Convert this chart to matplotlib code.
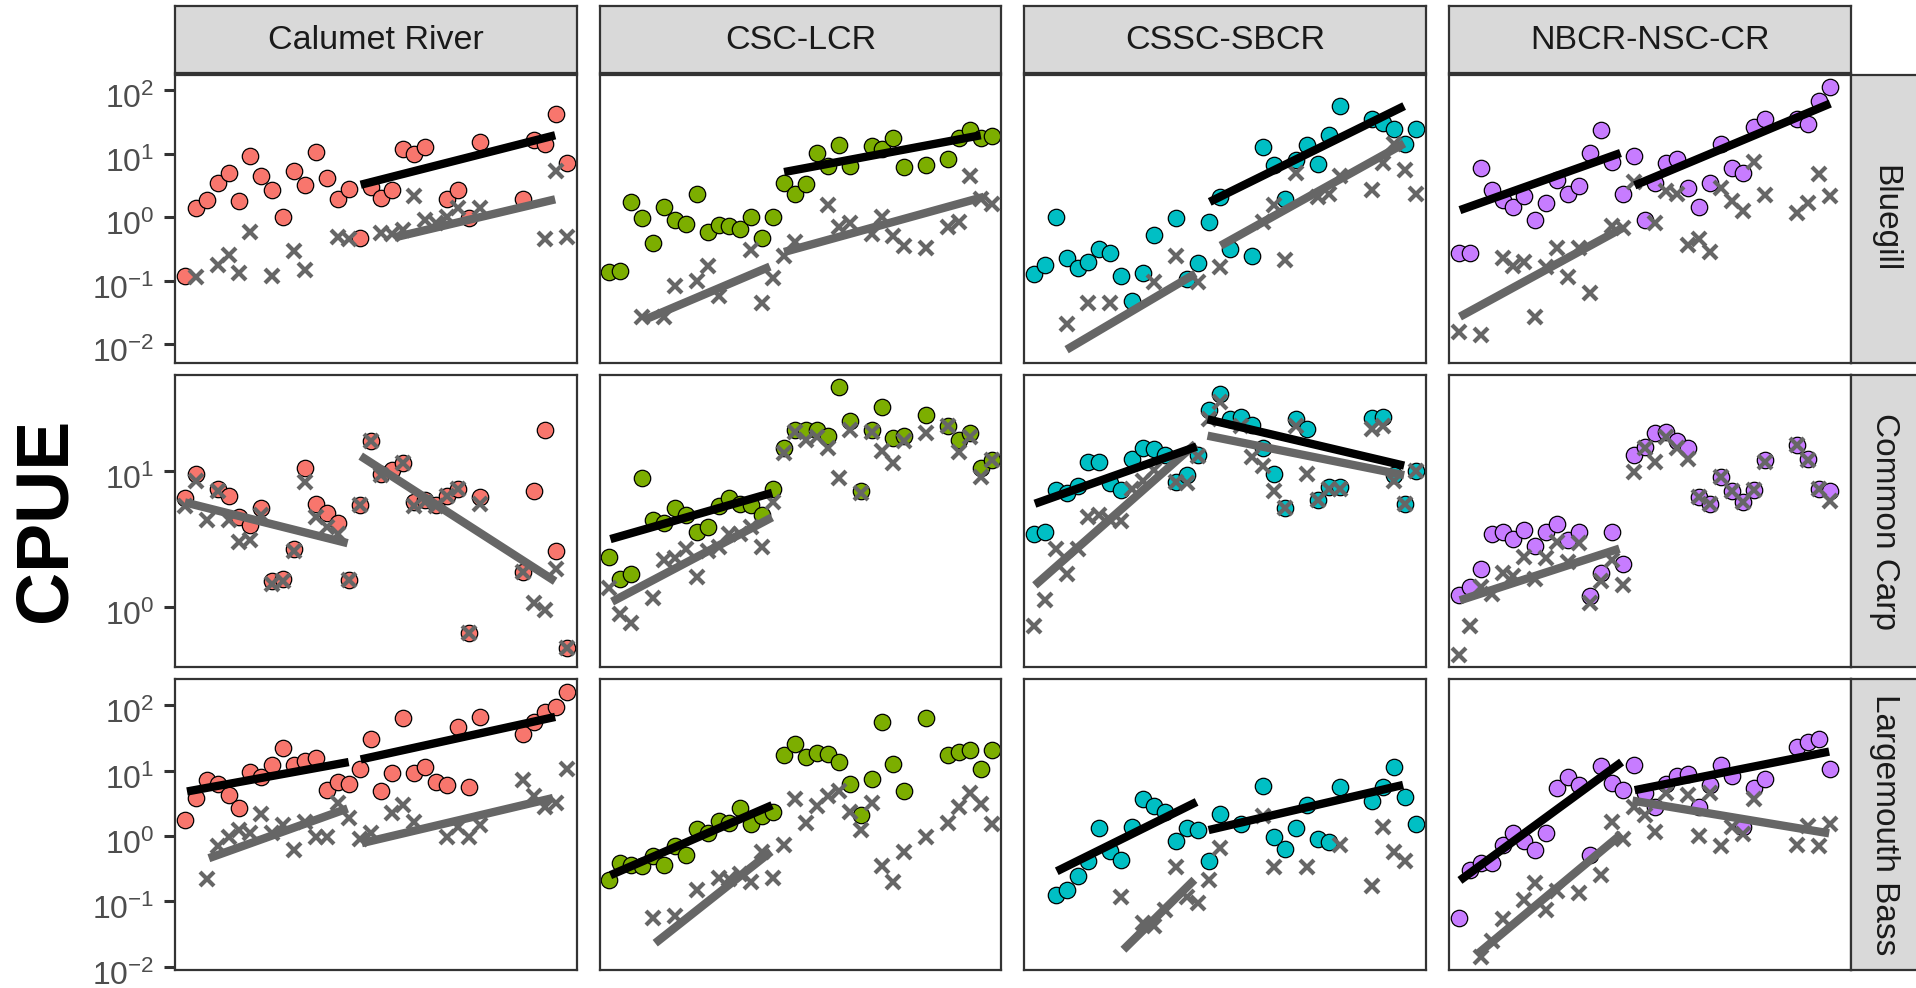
import numpy as np
import matplotlib.pyplot as plt
import matplotlib.transforms as mtransforms
from matplotlib.ticker import LogLocator, NullLocator

plt.rcParams['font.family'] = ['Liberation Sans', 'DejaVu Sans']
plt.rcParams['mathtext.fontset'] = 'custom'
plt.rcParams['mathtext.rm'] = 'Liberation Sans'
plt.rcParams['mathtext.it'] = 'Liberation Sans'
plt.rcParams['mathtext.bf'] = 'Liberation Sans:bold'
plt.rcParams['mathtext.default'] = 'regular'
plt.rcParams['axes.unicode_minus'] = False

sites = ["Calumet River", "CSC-LCR", "CSSC-SBCR", "NBCR-NSC-CR"]
species = ["Bluegill", "Common Carp", "Largemouth Bass"]
site_colors = ["#F8766D", "#7CAE00", "#00BFC4", "#C77CFF"]

# sampling index along x, values below are log10(CPUE), None = not sampled
t = np.arange(36)

# ---- Bluegill ----
cr_blg_circle = [-0.93, 0.14, 0.27, 0.54, 0.69, 0.25, 0.97, 0.65, 0.43, 0.0, 0.73, 0.50, 1.03, 0.62, 0.28, 0.45, -0.33, 0.48,
                 0.30, 0.43, 1.07, 1.00, 1.10, None, 0.28, 0.43, -0.02, 1.19, None, None, None, 0.28, 1.21, 1.15, 1.62, 0.86]
cr_blg_cross = [None, -0.94, None, -0.76, -0.60, -0.88, -0.24, None, -0.93, None, -0.53, -0.83, None, None, -0.31, -0.35, None, None,
                -0.25, -0.27, -0.20, 0.33, -0.05, -0.10, 0.0, 0.14, None, 0.14, None, None, None, None, None, -0.34, 0.73, -0.31]
csc_blg_circle = [-0.86, -0.85, 0.24, -0.02, -0.41, 0.16, -0.05, -0.11, 0.36, -0.24, -0.12, -0.14, -0.19, 0.0, -0.33, 0.0, 0.53, 0.37,
                  0.52, 1.01, 0.80, 1.13, 0.80, None, 1.12, 1.07, 1.24, 0.79, None, 0.82, None, 0.91, 1.25, 1.37, 1.25, 1.28]
csc_blg_cross = [None, None, None, -1.57, None, -1.57, -1.08, None, -1.0, -0.77, -1.25, None, None, -0.52, -1.36, -0.96, -0.62, -0.39,
                 None, None, 0.19, -0.15, -0.10, None, -0.26, 0.0, -0.30, -0.45, None, -0.49, None, -0.15, -0.07, 0.64, 0.29, 0.20]
cssc_blg_circle = [-0.89, -0.76, 0.0, -0.64, -0.81, -0.70, -0.51, -0.56, -0.93, -1.33, -0.88, -0.28, None, -0.01, -0.97, -0.72, -0.08, 0.32,
                   -0.51, None, -0.61, 1.11, 0.82, 0.28, 0.90, 1.13, 0.83, 1.29, 1.75, None, None, 1.54, 1.48, 1.39, 1.15, 1.39]
cssc_blg_cross = [None, None, None, -1.69, None, -1.36, None, -1.35, None, None, None, -1.03, None, -0.61, None, -1.03, None, -0.78,
                  None, None, None, -0.07, 0.19, -0.68, 0.69, None, 0.32, 0.37, 0.64, None, None, 0.43, 0.85, 1.16, 0.74, 0.37]
nbcr_blg_circle = [-0.56, -0.56, 0.78, 0.43, 0.27, 0.16, 0.33, -0.05, 0.22, 0.58, 0.36, 0.49, 1.01, 1.37, 0.87, 0.36, 0.96, -0.05,
                   0.54, 0.85, 0.92, 0.46, 0.16, 0.54, 1.16, 0.77, 0.70, 1.42, 1.54, None, None, 1.55, 1.46, 1.83, 2.05, None]
nbcr_blg_cross = [-1.81, None, -1.86, None, -0.65, -0.77, -0.70, -1.57, -0.78, -0.49, -0.94, -0.49, -1.20, None, -0.14, -0.17, 0.55, None,
                  -0.10, 0.41, 0.36, -0.44, -0.34, -0.55, 0.46, 0.25, 0.10, 0.87, 0.35, None, None, 0.06, 0.22, 0.68, 0.33, None]

# ---- Common Carp ----
cr_cc_circle = [0.80, 0.98, None, 0.87, 0.82, 0.66, 0.60, 0.73, 0.19, 0.21, 0.43, 1.02, 0.76, 0.69, 0.62, 0.20, 0.75, 1.22,
                0.98, 1.01, 1.06, 0.77, 0.79, 0.75, 0.82, 0.87, -0.19, 0.81, None, None, None, 0.26, 0.85, 1.30, 0.41, -0.30]
cr_cc_cross = [0.74, 0.93, 0.64, 0.85, 0.64, 0.48, 0.49, 0.68, 0.17, 0.19, 0.41, 0.92, 0.66, 0.59, 0.54, 0.20, 0.75, 1.22,
               0.97, None, 1.06, 0.74, 0.77, 0.74, 0.82, 0.87, -0.19, 0.76, None, None, None, 0.26, 0.03, -0.02, 0.28, -0.30]
csc_cc_circle = [0.37, 0.21, 0.24, 0.95, 0.64, 0.62, 0.73, 0.68, 0.55, 0.59, 0.74, 0.80, 0.76, 0.75, 0.68, 0.87, 1.17, 1.30,
                 1.30, 1.30, 1.26, 1.62, 1.37, 0.85, 1.30, 1.47, 1.24, 1.26, None, 1.41, None, 1.33, 1.23, 1.28, 1.02, 1.08]
csc_cc_cross = [0.14, -0.05, -0.12, None, 0.07, 0.35, 0.36, 0.43, 0.22, 0.41, 0.44, 0.54, 0.54, 0.59, 0.44, 0.77, 1.13, 1.29,
                1.23, 1.25, 1.17, 0.95, 1.30, 0.84, 1.29, 1.15, 1.06, 1.22, None, 1.28, None, 1.33, 1.14, 1.25, 0.96, 1.08]
cssc_cc_circle = [0.54, 0.55, 0.86, 0.84, 0.89, 1.07, 1.07, 0.91, 0.86, 1.09, 1.17, 1.16, 1.12, 0.92, 0.97, 1.12, 1.45, 1.57,
                  1.38, 1.40, 1.34, 1.17, 0.98, 0.73, 1.38, 1.31, 0.79, 0.88, 0.88, None, None, 1.39, 1.40, 0.97, 0.76, 1.00]
cssc_cc_cross = [-0.14, 0.05, 0.43, 0.24, 0.43, 0.66, 0.68, 0.64, 0.63, 0.87, 0.93, 1.01, None, 0.92, 0.91, 1.11, 1.38, 1.51,
                 None, 1.33, 1.10, 1.04, 0.85, 0.73, 1.33, 0.98, 0.79, 0.87, 0.87, None, None, 1.31, 1.33, 0.93, 0.76, 1.00]
nbcr_cc_circle = [0.09, 0.15, 0.28, 0.54, 0.55, 0.50, 0.57, 0.45, 0.55, 0.61, 0.49, 0.55, 0.08, 0.25, 0.55, 0.32, 1.12, 1.18,
                  1.28, 1.29, 1.22, 1.17, 0.81, 0.76, 0.96, 0.85, 0.77, 0.86, 1.08, None, None, 1.19, 1.09, 0.87, 0.85, None]
nbcr_cc_cross = [-0.35, -0.14, 0.15, 0.10, 0.25, 0.23, 0.37, 0.21, 0.36, 0.48, 0.33, 0.47, 0.03, 0.19, 0.35, 0.16, 0.99, 1.17,
                 1.07, 1.25, 1.17, 1.09, 0.81, 0.76, 0.96, 0.85, 0.77, 0.86, 1.07, None, None, 1.19, 1.08, 0.87, 0.78, None]

# ---- Largemouth Bass ----
cr_lmb_circle = [0.24, 0.58, 0.85, 0.80, 0.63, 0.42, 0.98, 0.90, 1.08, 1.34, 1.08, 1.15, 1.19, 0.71, 0.83, 0.80, 1.02, 1.49,
                 0.68, 0.96, 1.81, 0.96, 1.06, 0.83, 0.78, 1.66, 0.75, 1.82, None, None, None, 1.56, 1.75, 1.90, 1.97, 2.20]
cr_lmb_cross = [None, None, -0.66, -0.15, -0.01, 0.09, 0.04, 0.34, 0.04, 0.17, -0.21, 0.22, -0.01, -0.01, 0.50, 0.27, -0.04, 0.04,
                None, 0.35, 0.47, 0.22, None, None, -0.01, 0.14, -0.01, 0.17, None, None, None, 0.85, 0.61, 0.45, 0.50, 1.03]
csc_lmb_circle = [-0.67, -0.41, -0.44, -0.46, -0.31, -0.44, -0.16, -0.29, 0.10, 0.05, 0.23, 0.20, 0.42, 0.19, 0.30, 0.36, 1.24, 1.40,
                  1.20, 1.27, 1.26, 1.13, 0.79, 0.32, 0.87, 1.75, 1.10, 0.69, None, 1.81, None, 1.24, 1.29, 1.31, 1.03, 1.32]
csc_lmb_cross = [None, None, None, None, -1.26, None, -1.23, None, -0.82, None, -0.65, -0.66, -0.58, -0.70, -0.25, -0.65, -0.14, 0.56,
                 0.20, 0.46, 0.61, 0.68, 0.36, 0.09, 0.50, -0.46, -0.70, -0.25, None, -0.01, None, 0.20, 0.45, 0.66, 0.49, 0.18]
cssc_lmb_circle = [None, None, -0.90, -0.83, -0.61, -0.39, 0.12, -0.23, -0.37, 0.13, 0.56, 0.46, 0.36, -0.07, 0.12, 0.09, -0.38, 0.34,
                   None, 0.19, None, 0.76, -0.01, -0.20, 0.12, 0.47, -0.05, -0.10, 0.75, None, None, 0.54, 0.75, 1.06, 0.59, 0.19]
cssc_lmb_cross = [None, None, None, None, None, None, None, None, -0.94, None, -1.33, -1.38, -1.13, -0.48, -0.93, -1.03, -0.68, -0.19,
                  None, None, None, 0.30, -0.48, None, None, -0.47, None, None, -0.14, None, None, -0.76, 0.14, -0.24, -0.38, None]
nbcr_lmb_circle = [-1.26, -0.52, -0.41, -0.42, -0.14, 0.05, -0.07, -0.21, 0.05, 0.74, 0.90, 0.78, -0.29, 1.07, 0.81, 0.71, 1.08, 0.66,
                   0.45, 0.80, 0.91, 0.95, 0.45, 0.78, 1.08, 0.91, 0.14, 0.74, 0.87, None, None, 1.36, 1.44, 1.48, 1.03, None]
nbcr_lmb_cross = [None, None, -1.85, -1.60, -1.27, None, -0.98, -0.72, -1.14, -0.84, None, -0.87, None, -0.60, 0.22, -0.04, 0.45, 0.32,
                  0.06, 0.65, None, 0.63, 0.00, 0.65, -0.15, 0.14, 0.03, 0.56, None, None, None, -0.14, 0.15, -0.15, 0.19, None]

# trend segments: (x start, x end, log10 CPUE start, log10 CPUE end)
cr_blg_fit_circle = [(16.1, 33.9, 0.51, 1.29)]
cr_blg_fit_cross = [(19.2, 33.9, -0.32, 0.28)]
csc_blg_fit_circle = [(16.0, 34.0, 0.71, 1.29)]
csc_blg_fit_cross = [(3.2, 14.7, -1.62, -0.78), (16.0, 34.3, -0.55, 0.32)]
cssc_blg_fit_circle = [(16.1, 33.9, 0.24, 1.75)]
cssc_blg_fit_cross = [(3.0, 14.8, -2.09, -0.89), (17.1, 33.9, -0.45, 1.16)]
nbcr_blg_fit_circle = [(0.1, 14.8, 0.11, 1.01), (16.1, 34.0, 0.50, 1.79)]
nbcr_blg_fit_cross = [(0.1, 15.0, -1.57, -0.17)]

cr_cc_fit_circle = []
cr_cc_fit_cross = [(0.0, 14.9, 0.77, 0.47), (16.1, 33.9, 1.11, 0.19)]
csc_cc_fit_circle = [(0.1, 14.9, 0.50, 0.84)]
csc_cc_fit_cross = [(0.25, 14.9, 0.04, 0.66)]
cssc_cc_fit_circle = [(0.1, 14.9, 0.76, 1.18), (15.9, 33.9, 1.38, 1.04)]
cssc_cc_fit_cross = [(0.1, 14.8, 0.16, 1.20), (15.9, 33.9, 1.26, 0.97)]
nbcr_cc_fit_circle = []
nbcr_cc_fit_cross = [(0.1, 14.7, 0.05, 0.43)]

cr_lmb_fit_circle = [(0.2, 15.0, 0.68, 1.13), (16.1, 33.9, 1.17, 1.82)]
cr_lmb_fit_cross = [(2.2, 14.9, -0.34, 0.42), (16.2, 33.7, -0.11, 0.58)]
csc_lmb_fit_circle = [(0.1, 14.9, -0.60, 0.47)]
csc_lmb_fit_cross = [(4.2, 14.8, -1.64, -0.24)]
cssc_lmb_fit_circle = [(2.1, 14.9, -0.54, 0.52), (16.0, 33.8, 0.09, 0.78)]
cssc_lmb_fit_cross = [(8.2, 14.7, -1.74, -0.67)]
nbcr_lmb_fit_circle = [(0.1, 14.9, -0.68, 1.13), (16.1, 33.9, 0.70, 1.29)]
nbcr_lmb_fit_cross = [(1.75, 14.9, -1.80, 0.03), (15.9, 33.9, 0.54, 0.04)]

# y range of each species row (log10)
row_ylims = [(-2.30, 2.24), (-0.44, 1.706), (-2.05, 2.40)]

circles = [[cr_blg_circle, csc_blg_circle, cssc_blg_circle, nbcr_blg_circle],
           [cr_cc_circle, csc_cc_circle, cssc_cc_circle, nbcr_cc_circle],
           [cr_lmb_circle, csc_lmb_circle, cssc_lmb_circle, nbcr_lmb_circle]]
crosses = [[cr_blg_cross, csc_blg_cross, cssc_blg_cross, nbcr_blg_cross],
           [cr_cc_cross, csc_cc_cross, cssc_cc_cross, nbcr_cc_cross],
           [cr_lmb_cross, csc_lmb_cross, cssc_lmb_cross, nbcr_lmb_cross]]
fits_circle = [[cr_blg_fit_circle, csc_blg_fit_circle, cssc_blg_fit_circle, nbcr_blg_fit_circle],
               [cr_cc_fit_circle, csc_cc_fit_circle, cssc_cc_fit_circle, nbcr_cc_fit_circle],
               [cr_lmb_fit_circle, csc_lmb_fit_circle, cssc_lmb_fit_circle, nbcr_lmb_fit_circle]]
fits_cross = [[cr_blg_fit_cross, csc_blg_fit_cross, cssc_blg_fit_cross, nbcr_blg_fit_cross],
              [cr_cc_fit_cross, csc_cc_fit_cross, cssc_cc_fit_cross, nbcr_cc_fit_cross],
              [cr_lmb_fit_cross, csc_lmb_fit_cross, cssc_lmb_fit_cross, nbcr_lmb_fit_cross]]

# layout in pixels
W, H = 1916, 988
col_left = [175, 599.5, 1024, 1449]
panel_w = 402
row_top = [75, 375, 679]
row_h = [288, 292, 291]
border = "#333333"
grey = "#666666"

fig = plt.figure(figsize=(W / 100, H / 100), dpi=100)
# ggplot centres the whole math label, so the "10" sits a bit below the tick
label_shift = mtransforms.ScaledTranslation(0, -6 / 100, fig.dpi_scale_trans)


def rect(x0, y0, w, h):
    return [x0 / W, 1 - (y0 + h) / H, w / W, h / H]


def style_spines(ax, lw=1.6):
    for s in ax.spines.values():
        s.set_color(border)
        s.set_linewidth(lw)


for i, sp in enumerate(species):
    lo, hi = row_ylims[i]
    for j, site in enumerate(sites):
        ax = fig.add_axes(rect(col_left[j], row_top[i], panel_w, row_h[i]))
        ax.set_yscale('log')
        ax.set_xlim(-0.9, 35.9)
        ax.set_ylim(10 ** lo, 10 ** hi)

        yc = 10 ** np.array(circles[i][j], dtype=float)
        yx = 10 ** np.array(crosses[i][j], dtype=float)
        ax.scatter(t, yc, s=140, c=site_colors[j], edgecolors='black', linewidths=0.9, zorder=2)
        ax.plot(t, yx, ls='none', marker='x', ms=10.5, mew=3.0, color=grey, zorder=3)

        for x0, x1, y0, y1 in fits_cross[i][j]:
            ax.plot([x0, x1], [10 ** y0, 10 ** y1], color=grey, lw=6, solid_capstyle='butt', zorder=4)
        for x0, x1, y0, y1 in fits_circle[i][j]:
            ax.plot([x0, x1], [10 ** y0, 10 ** y1], color='black', lw=6, solid_capstyle='butt', zorder=5)

        ax.yaxis.set_major_locator(LogLocator(base=10, numticks=10))
        ax.yaxis.set_minor_locator(NullLocator())
        ax.set_xticks([])
        if j == 0:
            ax.tick_params(axis='y', length=8, width=2.2, color=border, labelsize=23,
                           labelcolor='#4D4D4D', pad=7)
            fig.canvas.draw()
            for lab in ax.get_yticklabels():
                lab.set_transform(lab.get_transform() + label_shift)
        else:
            ax.tick_params(axis='y', left=False, labelleft=False)
        style_spines(ax)

# top strips
for j, site in enumerate(sites):
    s = fig.add_axes(rect(col_left[j], 6, panel_w, 67))
    s.set_facecolor('#D9D9D9')
    s.set_xticks([])
    s.set_yticks([])
    style_spines(s)
    s.text(0.5, 0.48, site, ha='center', va='center', fontsize=24.5, color='#1A1A1A', transform=s.transAxes)

# right strips
for i, sp in enumerate(species):
    s = fig.add_axes(rect(1851, row_top[i], 67, row_h[i]))
    s.set_facecolor('#D9D9D9')
    s.set_xticks([])
    s.set_yticks([])
    style_spines(s)
    s.text(0.5, 0.5, sp, ha='center', va='center', rotation=270, fontsize=24, color='#1A1A1A',
           transform=s.transAxes)

fig.text(46 / W, 1 - 520 / H, 'CPUE', rotation=90, ha='center', va='center', fontsize=53, fontweight='bold')

fig.savefig('out.png', dpi=100)
